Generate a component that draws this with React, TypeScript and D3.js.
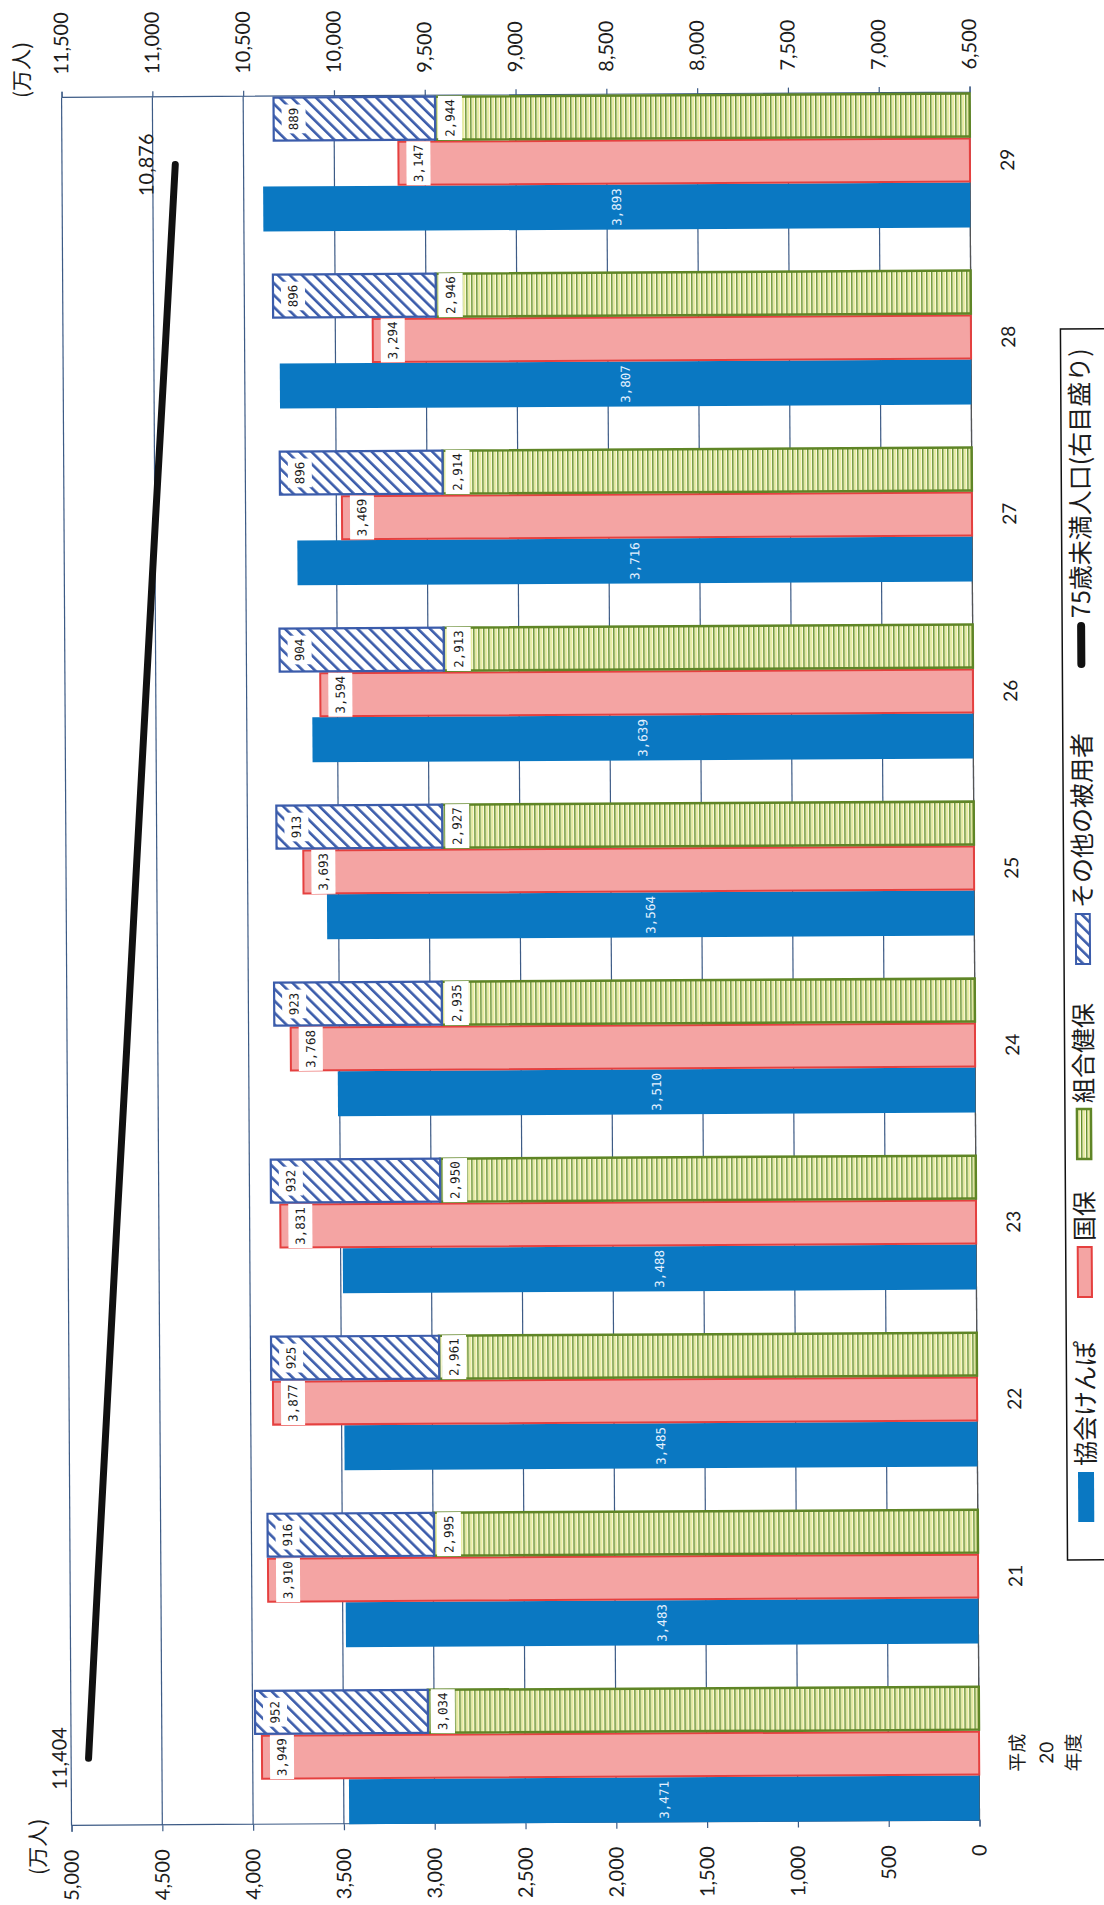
import { useEffect, useRef } from 'react';
import * as d3 from 'd3';

// 年度（平成）
const years = ['20', '21', '22', '23', '24', '25', '26', '27', '28', '29'];
// 協会けんぽ（万人）
const kyokai = [3471, 3483, 3485, 3488, 3510, 3564, 3639, 3716, 3807, 3893];
// 国保
const kokuho = [3949, 3910, 3877, 3831, 3768, 3693, 3594, 3469, 3294, 3147];
// 組合健保
const kumiai = [3034, 2995, 2961, 2950, 2935, 2927, 2913, 2914, 2946, 2944];
// その他の被用者
const sonota = [952, 916, 925, 932, 923, 913, 904, 896, 896, 889];
// 75歳未満人口（右目盛り）
const under75 = [11404, 11348, 11290, 11232, 11172, 11114, 11055, 10996, 10935, 10876];

const leftTicks = [0, 500, 1000, 1500, 2000, 2500, 3000, 3500, 4000, 4500, 5000];
const rightTicks = [6500, 7000, 7500, 8000, 8500, 9000, 9500, 10000, 10500, 11000, 11500];
const legendNames = ['協会けんぽ', '国保', '組合健保', 'その他の被用者', '75歳未満人口(右目盛り)'];

const FONT = "Lato, 'Noto Sans CJK JP', sans-serif";
const JP = "'Noto Sans CJK JP', sans-serif";
const LBL = "'DejaVu Sans Mono', monospace";

export default function App() {
  const ref = useRef<SVGSVGElement>(null);

  useEffect(() => {
    document.body.style.margin = '0';
    const svg = d3.select(ref.current);
    svg.selectAll('*').remove();

    const W = 1905; // chart drawn landscape, then turned to fit the page
    const uL = 82, uR = 1810, vT = 66.5, vB = 974.5;
    const grid = '#3d5b86';

    const defs = svg.append('defs');
    const pg = defs.append('pattern').attr('id', 'green').attr('patternUnits', 'userSpaceOnUse')
      .attr('width', 10).attr('height', 5);
    pg.append('rect').attr('width', 10).attr('height', 5).attr('fill', '#fbfbe6');
    pg.append('rect').attr('y', 0).attr('width', 10).attr('height', 1.4).attr('fill', '#5e8a22');
    pg.append('rect').attr('y', 2.6).attr('width', 10).attr('height', 0.9).attr('fill', '#d9de55');
    const ph = defs.append('pattern').attr('id', 'hatch').attr('patternUnits', 'userSpaceOnUse')
      .attr('width', 8.5).attr('height', 8.5).attr('patternTransform', 'rotate(45)');
    ph.append('rect').attr('width', 8.5).attr('height', 8.5).attr('fill', '#fff');
    ph.append('rect').attr('width', 2.6).attr('height', 8.5).attr('fill', '#3b5cab');

    svg.append('rect').attr('width', 1104).attr('height', 1905).attr('fill', '#fff');
    const page = svg.append('g').attr('transform', 'rotate(-0.33 552 952)');
    const g = page.append('g').attr('transform', `translate(0,${W}) rotate(-90)`);

    const x = d3.scaleBand<string>().domain(years).range([uL, uR]).paddingInner(0.238).paddingOuter(0);
    const xs = d3.scaleBand<string>().domain(['k', 'n', 's']).range([0, x.bandwidth()]);
    const yL = d3.scaleLinear().domain([0, 5000]).range([vB, vT]);
    const yR = d3.scaleLinear().domain([6500, 11500]).range([vB, vT]);
    const fmt = d3.format(',');

    // gridlines
    g.append('g').selectAll('line').data(leftTicks).join('line')
      .attr('x1', uL).attr('x2', uR).attr('y1', d => yL(d)).attr('y2', d => yL(d))
      .attr('stroke', grid).attr('stroke-width', 1.2);

    // axes
    const axL = g.append('g').attr('transform', `translate(${uL},0)`)
      .call(d3.axisLeft(yL).tickValues(leftTicks).tickSize(6).tickPadding(18).tickFormat(d => fmt(d as number)));
    const axR = g.append('g').attr('transform', `translate(${uR},0)`)
      .call(d3.axisRight(yR).tickValues(rightTicks).tickSize(6).tickPadding(17).tickFormat(d => fmt(d as number)));
    [axL, axR].forEach(a => {
      a.select('.domain').attr('stroke', grid).attr('stroke-width', 1.2);
      a.selectAll('.tick line').attr('stroke', grid).attr('stroke-width', 1.2);
      a.selectAll('text').attr('font-size', 20).attr('font-family', FONT).attr('fill', '#1c1c1c');
    });
    g.append('line').attr('x1', uL).attr('x2', uR).attr('y1', vB).attr('y2', vB)
      .attr('stroke', '#555').attr('stroke-width', 1.2);

    // axis titles
    g.append('text').attr('x', 33).attr('y', 33).attr('dy', '0.35em').attr('font-size', 21)
      .attr('font-family', JP).attr('fill', '#1c1c1c').text('(万人)');
    g.append('text').attr('x', 1810).attr('y', 27).attr('dy', '0.35em').attr('font-size', 21)
      .attr('font-family', JP).attr('fill', '#1c1c1c').text('(万人)');

    // bars
    const idx = years.map((_, i) => i);
    const bx = (i: number, s: string) => (x(years[i]) as number) + (xs(s) as number);
    const bw = xs.bandwidth();

    g.append('g').selectAll('rect').data(idx).join('rect')
      .attr('x', i => bx(i, 'k')).attr('width', bw)
      .attr('y', i => yL(kyokai[i])).attr('height', i => yL(0) - yL(kyokai[i]))
      .attr('fill', '#0a78c2');
    g.append('g').selectAll('rect').data(idx).join('rect')
      .attr('x', i => bx(i, 'n') + 1).attr('width', bw - 2)
      .attr('y', i => yL(kokuho[i])).attr('height', i => yL(0) - yL(kokuho[i]))
      .attr('fill', '#f4a4a3').attr('stroke', '#e5403f').attr('stroke-width', 2);
    g.append('g').selectAll('rect').data(idx).join('rect')
      .attr('x', i => bx(i, 's') + 1).attr('width', bw - 2)
      .attr('y', i => yL(kumiai[i])).attr('height', i => yL(0) - yL(kumiai[i]))
      .attr('fill', 'url(#green)').attr('stroke', '#5f8526').attr('stroke-width', 2.5);
    g.append('g').selectAll('rect').data(idx).join('rect')
      .attr('x', i => bx(i, 's') + 1).attr('width', bw - 2)
      .attr('y', i => yL(kumiai[i] + sonota[i])).attr('height', i => yL(kumiai[i]) - yL(kumiai[i] + sonota[i]))
      .attr('fill', 'url(#hatch)').attr('stroke', '#3b5cab').attr('stroke-width', 2.2);

    // data labels
    const boxLabel = (cx: number, cy: number, t: string) => {
      const w = t.length * 7.6 + 6;
      g.append('rect').attr('x', cx - w / 2).attr('y', cy - 12).attr('width', w).attr('height', 24).attr('fill', '#fff');
      g.append('text').attr('x', cx).attr('y', cy).attr('dy', '0.35em').attr('text-anchor', 'middle')
        .attr('font-size', 12.5).attr('font-family', LBL).attr('fill', '#1c1c1c').text(t);
    };
    idx.forEach(i => {
      g.append('text').attr('x', bx(i, 'k') + bw / 2).attr('y', (yL(0) + yL(kyokai[i])) / 2).attr('dy', '0.35em')
        .attr('text-anchor', 'middle').attr('font-size', 12.5).attr('font-family', LBL).attr('fill', '#e4f1ff')
        .text(fmt(kyokai[i]));
      boxLabel(bx(i, 'n') + bw / 2, yL(kokuho[i]) + 20, fmt(kokuho[i]));
      boxLabel(bx(i, 's') + bw / 2, yL(kumiai[i]) + 15, fmt(kumiai[i]));
      boxLabel(bx(i, 's') + bw / 2, yL(kumiai[i] + sonota[i]) + 20, fmt(sonota[i]));
    });

    // 75歳未満人口 line
    const cx = (i: number) => (x(years[i]) as number) + x.bandwidth() / 2;
    g.append('path').datum(idx)
      .attr('d', d3.line<number>().x(i => cx(i)).y(i => yR(under75[i])))
      .attr('fill', 'none').attr('stroke', '#111').attr('stroke-width', 7).attr('stroke-linecap', 'round')
      .attr('stroke-linejoin', 'round');
    [0, years.length - 1].forEach(i => {
      g.append('text').attr('x', cx(i)).attr('y', yR(under75[i]) - 29).attr('dy', '0.35em')
        .attr('text-anchor', 'middle').attr('font-size', 20).attr('font-family', FONT).attr('fill', '#1c1c1c')
        .text(fmt(under75[i]));
    });

    // category labels
    idx.forEach(i => {
      const t = g.append('text').attr('x', cx(i)).attr('text-anchor', 'middle')
        .attr('font-size', 19).attr('font-family', FONT).attr('fill', '#1c1c1c');
      if (i === 0) {
        t.append('tspan').attr('x', cx(i)).attr('y', 1013).attr('dy', '0.35em').text('平成');
        t.append('tspan').attr('x', cx(i)).attr('y', 1042).attr('dy', '0.35em').text(years[i]);
        t.append('tspan').attr('x', cx(i)).attr('y', 1069).attr('dy', '0.35em').text('年度');
      } else {
        t.attr('y', 1012).attr('dy', '0.35em').text(years[i]);
      }
    });

    // legend
    const lg = g.append('g');
    lg.append('rect').attr('x', 342).attr('y', 1064).attr('width', 1573 - 342).attr('height', 80)
      .attr('fill', '#fff').attr('stroke', '#111').attr('stroke-width', 1.5);
    const keyU = [380, 605, 743, 938, 1234];
    const kv = 1083;
    legendNames.forEach((name, i) => {
      const u = keyU[i];
      if (i === 0) lg.append('rect').attr('x', u).attr('y', kv - 8).attr('width', 50).attr('height', 16).attr('fill', '#0a78c2');
      if (i === 1) lg.append('rect').attr('x', u).attr('y', kv - 7).attr('width', 50).attr('height', 14)
        .attr('fill', '#f4a4a3').attr('stroke', '#e5403f').attr('stroke-width', 2);
      if (i === 2) lg.append('rect').attr('x', u).attr('y', kv - 7).attr('width', 50).attr('height', 14)
        .attr('fill', 'url(#green)').attr('stroke', '#5f8526').attr('stroke-width', 2.5);
      if (i === 3) lg.append('rect').attr('x', u).attr('y', kv - 7).attr('width', 50).attr('height', 14)
        .attr('fill', 'url(#hatch)').attr('stroke', '#3b5cab').attr('stroke-width', 2);
      if (i === 4) lg.append('line').attr('x1', u + 4).attr('x2', u + 42).attr('y1', kv).attr('y2', kv)
        .attr('stroke', '#111').attr('stroke-width', 8).attr('stroke-linecap', 'round');
      lg.append('text').attr('x', u + (i === 4 ? 50 : 56)).attr('y', kv).attr('dy', '0.36em')
        .attr('font-size', 25).attr('font-family', JP).attr('fill', '#1c1c1c').text(name);
    });
  }, []);

  return (
    <svg ref={ref} width={1104} height={1905} style={{ position: 'absolute', left: 0, top: 0, display: 'block' }} />
  );
}
